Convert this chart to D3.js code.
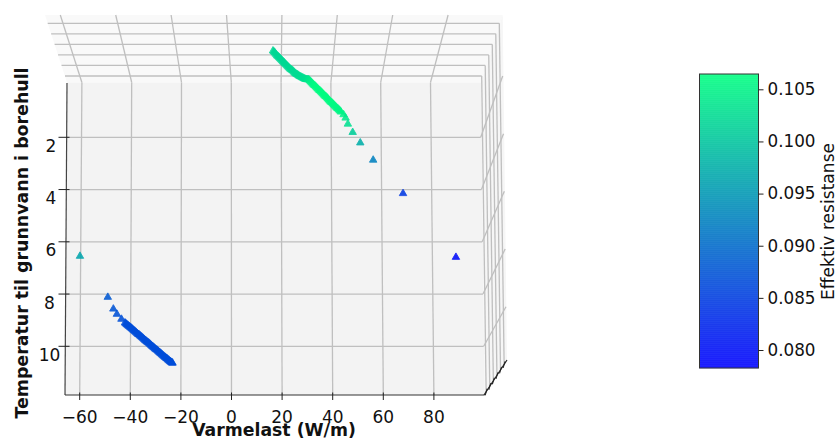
<!DOCTYPE html>
<html>
<head>
<meta charset="utf-8">
<script src="https://cdnjs.cloudflare.com/ajax/libs/d3/7.8.5/d3.min.js"></script>
<style>
body{margin:0;background:#fff;}
text{font-family:"DejaVu Sans",sans-serif;fill:#111;}
</style>
</head>
<body>
<svg id="chart" width="840" height="441"></svg>
<script>
//Ticks
const x_ticks=[-60,-40,-20,0,20,40,60,80];
const y_ticks=[2,4,6,8,10];
const depth_ticks=[1,2,3,4,5,6];
const cb_ticks=[0.080,0.085,0.090,0.095,0.100,0.105];

//Isolated points on the lower arm and the upper arm
const load_single=[-59.9,-48.9,-46.7,-45.3,-43.5,44.3,45.1,46.0,47.9,50.9,56.0,67.8,88.7];
const temp_single=[6.55,8.12,8.57,8.77,8.96,1.13,1.26,1.49,1.81,2.21,2.87,4.15,6.59];
const res_single=[0.0965,0.0880,0.0875,0.0872,0.0870,0.1050,0.1040,0.1030,0.1010,0.0975,0.0925,0.0845,0.0795];

//Dense lower arm, all the same resistance
const load_low=[-42.1,-41.75,-41.4,-41.05,-40.7,-40.35,-40.0,-39.65,-39.3,-38.95,-38.6,-38.25,-37.9,-37.55,-37.2,-36.85,-36.5,-36.15,-35.8,-35.45,-35.1,-34.75,-34.4,-34.05,-33.7,-33.35,-33.0,-32.65,-32.3,-31.95,-31.6,-31.25,-30.9,-30.55,-30.2,-29.85,-29.5,-29.15,-28.8,-28.45,-28.1,-27.75,-27.4,-27.05,-26.7,-26.35,-26.0,-25.7,-25.4,-25.1,-24.8,-24.5,-24.2,-23.95,-23.7,-23.5,-23.3];
const temp_low=[9.10,9.13,9.16,9.19,9.22,9.24,9.27,9.30,9.33,9.36,9.39,9.42,9.45,9.48,9.51,9.54,9.56,9.59,9.62,9.65,9.68,9.71,9.74,9.77,9.80,9.83,9.85,9.88,9.91,9.94,9.97,10.00,10.03,10.06,10.09,10.12,10.14,10.17,10.20,10.23,10.26,10.29,10.32,10.35,10.38,10.41,10.43,10.46,10.48,10.51,10.53,10.56,10.58,10.60,10.62,10.63,10.64];
const res_low=0.0868;

//Dense upper arm
const load_up=[16.4,16.8,17.2,17.6,18.0,18.4,18.8,19.2,19.6,20.0,20.4,20.75,21.1,21.5,21.9,22.3,22.7,23.1,23.5,23.9,24.3,24.7,25.1,25.5,25.9,26.3,26.7,27.1,27.5,27.9,28.3,28.7,29.1,29.5,29.9,30.25,30.6,31.0,31.4,31.8,32.2,32.6,33.0,33.4,33.8,34.2,34.6,35.0,35.4,35.8,36.2,36.6,37.0,37.4,37.8,38.15,38.5,38.9,39.3,39.7,40.1,40.5,40.9,41.3,41.7,42.1,42.5,42.9,43.3];
const temp_up=[-1.31,-1.27,-1.23,-1.18,-1.13,-1.10,-1.06,-1.02,-0.98,-0.94,-0.90,-0.87,-0.83,-0.79,-0.75,-0.71,-0.67,-0.63,-0.60,-0.57,-0.54,-0.50,-0.46,-0.43,-0.41,-0.38,-0.35,-0.33,-0.31,-0.29,-0.27,-0.25,-0.23,-0.22,-0.21,-0.21,-0.20,-0.16,-0.12,-0.08,-0.04,0.00,0.03,0.07,0.11,0.15,0.19,0.22,0.26,0.30,0.34,0.38,0.42,0.45,0.49,0.53,0.57,0.61,0.65,0.68,0.72,0.76,0.80,0.84,0.88,0.91,0.95,0.99,1.03];
const res_up=[0.1020,0.1020,0.1020,0.1020,0.1020,0.1021,0.1021,0.1021,0.1021,0.1022,0.1022,0.1022,0.1022,0.1023,0.1023,0.1023,0.1023,0.1024,0.1024,0.1024,0.1024,0.1025,0.1025,0.1025,0.1025,0.1026,0.1026,0.1027,0.1027,0.1028,0.1028,0.1029,0.1030,0.1032,0.1035,0.1038,0.1042,0.1046,0.1050,0.1053,0.1056,0.1058,0.1060,0.1061,0.1062,0.1062,0.1062,0.1062,0.1062,0.1062,0.1062,0.1062,0.1062,0.1062,0.1062,0.1062,0.1062,0.1061,0.1060,0.1060,0.1060,0.1059,0.1058,0.1058,0.1058,0.1057,0.1056,0.1055,0.1054];

const svg=d3.select('#chart');

//Front wall scales, the bottom edge is a bit wider than the top edge
const xScale=d3.scaleLinear().domain([-60,80]).range([79.7,433.9]);
const xTop=d3.scaleLinear().domain([-60,80]).range([81.9,430.5]);
const xBack=d3.scaleLinear().domain([-60,80]).range([60.3,448.1]);
const yScale=d3.scaleLinear().domain([2,10]).range([137.3,346.3]);

//Right wall scales
const leftEnd=d3.scaleLinear().domain([2,10]).range([66.6,65.4]);
const rightEnd=d3.scaleLinear().domain([2,10]).range([480.7,483.7]);
const wallX=d3.scaleLinear().domain([2,10]).range([502.7,506]);
const wallY=d3.scaleLinear().domain([2,10]).range([76,306.7]);

//Depth scales
const depthY=d3.scaleLinear().domain([1,6]).range([76,23.3]);
const depthL=d3.scaleLinear().domain([1,6]).range([65,47.7]);
const depthR=d3.scaleLinear().domain([1,6]).range([481.7,499.3]);
const depthBX=d3.scaleLinear().domain([0.4,6.8]).range([484,507]);
const depthBY=d3.scaleLinear().domain([0.4,6.8]).range([395,360]);

const top_y=15, front_top=82.5, bottom_y=395, grid='#bfbfbf';

//Panes
svg.append('polygon')
    .attr('points',`45,${top_y} 502.7,${top_y} 481.5,${front_top} 67,${front_top}`)
    .style('fill','#f9f9f9');
svg.append('polygon')
    .attr('points',`481.5,${front_top} 502.7,${top_y} 507,360 484.5,${bottom_y}`)
    .style('fill','#f6f6f6');
svg.append('polygon')
    .attr('points',`67,${front_top} 481.5,${front_top} 484.5,${bottom_y} 65,${bottom_y}`)
    .style('fill','#f3f3f3');

const seg=(x1,y1,x2,y2,col,w)=>svg.append('line')
    .attr('x1',x1).attr('y1',y1).attr('x2',x2).attr('y2',y2)
    .style('stroke',col).style('stroke-width',w);

//Grid on the top pane and right pane along depth
depth_ticks.forEach(d=>{
    seg(depthL(d),depthY(d),depthR(d),depthY(d),grid,1.3);
    seg(depthR(d),depthY(d),depthBX(d),depthBY(d),grid,1.3);
});

//Grid along x
x_ticks.forEach(v=>{
    seg(xBack(v),top_y,xTop(v),front_top,grid,1.3);
    seg(xTop(v),front_top,xScale(v),bottom_y,grid,1.3);
});

//Grid along temperature
y_ticks.forEach(t=>{
    seg(leftEnd(t),yScale(t),rightEnd(t),yScale(t),grid,1.3);
    seg(rightEnd(t),yScale(t),wallX(t),wallY(t),grid,1.3);
});

//Spines
seg(67,83,65,bottom_y,'#444',1.2);
seg(65,bottom_y,484.5,bottom_y,'#333',1.2);
seg(484,bottom_y,507,360,'#222',1.2);

//Ticks
x_ticks.forEach(v=>seg(xScale(v),392.5,xScale(v),400,'#222',1));
y_ticks.forEach(t=>seg(58.5,yScale(t),69.5,yScale(t),'#222',1));
depth_ticks.forEach(d=>seg(depthBX(d)+1,depthBY(d)-3,depthBX(d)-1,depthBY(d)+3.5,'#222',1.1));

//Tick labels
x_ticks.forEach(v=>svg.append('text')
    .attr('x',xScale(v)).attr('y',422.5)
    .attr('text-anchor','middle')
    .style('font-size','17px')
    .text(d3.format('d')(v).replace('-','\u2212')));
y_ticks.forEach(t=>svg.append('text')
    .attr('x',t<8?51:49.5).attr('y',yScale(t)+14.5)
    .attr('text-anchor','middle')
    .style('font-size','17px')
    .text(t));

//Colour map, same as matplotlib winter
const winter=d3.interpolateRgb('rgb(0,0,255)','rgb(0,255,128)');
const cb_y=d3.scaleLinear().domain([0.080,0.105]).range([350,89.3]);
const cb_dom=[cb_y.invert(368),cb_y.invert(74)];
const color=d3.scaleSequential(winter).domain(cb_dom);

//Triangles
const triangle=d3.symbol().type(d3.symbolTriangle).size(24);
const drawPoints=(xs,ts,rs)=>{
    svg.append('g').selectAll('path').data(xs).enter().append('path')
        .attr('d',triangle)
        .attr('transform',(d,i)=>`translate(${xScale(d)},${yScale(ts[i])})`)
        .style('fill',(d,i)=>color(rs[i]))
        .style('stroke',(d,i)=>color(rs[i]))
        .style('stroke-width',0.9)
        .style('opacity',0.88);
};
drawPoints(load_up,temp_up,res_up);
drawPoints(load_low,temp_low,load_low.map(()=>res_low));
drawPoints(load_single,temp_single,res_single);

//Axis titles
svg.append('text')
    .attr('x',274).attr('y',436)
    .attr('text-anchor','middle')
    .style('font-size','17.3px').style('font-weight','bold')
    .text('Varmelast (W/m)');
svg.append('text')
    .attr('transform','translate(28,243) rotate(-90)')
    .attr('text-anchor','middle')
    .style('font-size','17.4px').style('font-weight','bold')
    .text('Temperatur til grunnvann i borehull');

//Colorbar
const cb=svg.append('g');
const cb_x0=699.5, cb_x1=758.5;
const levels=d3.range(0,147);
cb.selectAll('rect').data(levels).enter().append('rect')
    .attr('x',cb_x0)
    .attr('width',cb_x1-cb_x0)
    .attr('y',i=>368-(i+1)*2)
    .attr('height',2.2)
    .style('fill',i=>color(cb_y.invert(368-(i+0.5)*2)))
    .style('opacity',0.87);
cb.append('rect')
    .attr('x',cb_x0).attr('y',74)
    .attr('width',cb_x1-cb_x0).attr('height',294)
    .style('fill','none').style('stroke','#333').style('stroke-width',1);

const cb_axis=svg.append('g')
    .attr('transform',`translate(${cb_x1},0)`)
    .call(d3.axisRight(cb_y).tickValues(cb_ticks).tickFormat(d3.format('.3f')).tickSize(5).tickPadding(4));
cb_axis.select('.domain').remove();
cb_axis.selectAll('text').style('font-size','16.8px').style('font-family','"DejaVu Sans",sans-serif').style('fill','#111');
cb_axis.selectAll('line').style('stroke','#222');

svg.append('text')
    .attr('transform','translate(834,221.5) rotate(-90)')
    .attr('text-anchor','middle')
    .style('font-size','17.1px')
    .text('Effektiv resistanse');
</script>
</body>
</html>
